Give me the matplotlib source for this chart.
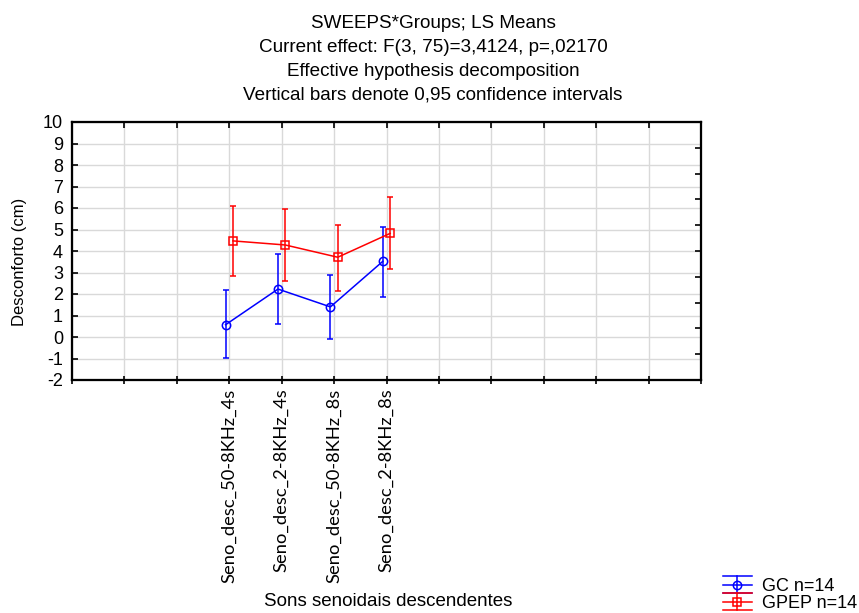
import numpy as np
import matplotlib.pyplot as plt
from matplotlib.lines import Line2D
from matplotlib.legend_handler import HandlerBase

# category labels and positions on the 0..12 x scale
categories = ["Seno_desc_50-8KHz_4s", "Seno_desc_2-8KHz_4s",
              "Seno_desc_50-8KHz_8s", "Seno_desc_2-8KHz_8s"]
positions = [3, 4, 5, 6]

# LS means and 0.95 confidence limits
gc_mean = [0.57, 2.23, 1.40, 3.52]
gc_low = [-0.96, 0.62, -0.09, 1.88]
gc_high = [2.17, 3.85, 2.87, 5.13]

gpep_mean = [4.47, 4.28, 3.71, 4.82]
gpep_low = [2.85, 2.59, 2.14, 3.15]
gpep_high = [6.09, 5.95, 5.21, 6.53]

title_lines = ["SWEEPS*Groups; LS Means",
               "Current effect: F(3, 75)=3,4124, p=,02170",
               "Effective hypothesis decomposition",
               "Vertical bars denote 0,95 confidence intervals"]

plt.rcParams['font.family'] = ['Liberation Sans', 'DejaVu Sans']

W, H = 859, 613
fig = plt.figure(figsize=(W / 100, H / 100), dpi=100)
ax = fig.add_axes([72 / W, 1 - 380 / H, 629 / W, 258 / H])

off = 0.07
x_gc = np.array(positions) - off
x_gp = np.array(positions) + off
gc_m = np.array(gc_mean)
gp_m = np.array(gpep_mean)

ax.errorbar(x_gc, gc_m,
            yerr=[gc_m - np.array(gc_low), np.array(gc_high) - gc_m],
            color='#0000ff', marker='o', markersize=6, mfc='none',
            mec='#0000ff', mew=1.1, lw=1.1, elinewidth=1.1, capsize=2.2,
            capthick=1.1, zorder=3)
ax.errorbar(x_gp, gp_m,
            yerr=[gp_m - np.array(gpep_low), np.array(gpep_high) - gp_m],
            color='#ff0000', marker='s', markersize=6, mfc='none',
            mec='#ff0000', mew=1.1, lw=1.1, elinewidth=1.1, capsize=2.2,
            capthick=1.1, zorder=3)

ax.set_xlim(0, 12)
ax.set_ylim(-2, 10)
ax.set_xticks(np.arange(0, 13))
ax.set_xticklabels(["" if i not in positions else categories[positions.index(i)]
                    for i in range(13)],
                   rotation=90, fontsize=13.2, family=['Lato', 'DejaVu Sans'])
ax.set_yticks(np.arange(-2, 11))
ax.set_yticklabels([str(v) for v in range(-2, 11)], fontsize=13)
ax.grid(True, color='#d9d9d9', lw=1.0)
ax.set_axisbelow(True)
ax.tick_params(axis='y', direction='in', length=4, width=1.2, right=False, pad=6.5)
ax.tick_params(axis='x', direction='inout', length=6, width=1.2, top=False, pad=3)
for s in ax.spines.values():
    s.set_linewidth(1.5)

# top ticks, inward
axt = ax.twiny()
axt.set_xlim(0, 12)
axt.set_xticks(np.arange(1, 12))
axt.set_xticklabels([])
axt.tick_params(axis='x', direction='in', length=4, width=1.2)

# right-side ticks (separate scale, unlabeled)
axr = ax.twinx()
axr.set_ylim(0, 10)
axr.set_yticks(np.arange(1, 10))
axr.set_yticklabels([])
axr.tick_params(axis='y', direction='in', length=4, width=1.2)
for a in (axt, axr):
    for s in a.spines.values():
        s.set_linewidth(1.5)

fig.text(20 / W, 1 - 262 / H, "Desconforto (cm)", rotation=90,
         ha='center', va='center', fontsize=12)
fig.text(388 / W, 1 - 602 / H, "Sons senoidais descendentes",
         ha='center', va='center', fontsize=13.5)

for i, line in enumerate(title_lines):
    fig.text(433 / W, 1 - (23 + 24 * i) / H, line, ha='center', va='center',
             fontsize=13.6)


# legend handle: line + marker with wide caps and a vertical stem
class HandlerCI(HandlerBase):
    def create_artists(self, legend, orig_handle, xdescent, ydescent,
                       width, height, fontsize, trans):
        c = orig_handle.get_color()
        m = orig_handle.get_marker()
        yc = height / 2 - ydescent
        d = 0.47 * fontsize
        x0, x1 = -xdescent, width - xdescent
        xm = (x0 + x1) / 2
        arts = [Line2D([x0, x1], [yc, yc], color=c, lw=1.1),
                Line2D([x0, x1], [yc + d, yc + d], color=c, lw=1.1),
                Line2D([x0, x1], [yc - d, yc - d], color=c, lw=1.1),
                Line2D([xm, xm], [yc - d, yc + d], color=c, lw=1.1),
                Line2D([xm], [yc], marker=m, color=c, mfc='none', ms=6, mew=1.1)]
        for a in arts:
            a.set_transform(trans)
        return arts


h1 = Line2D([], [], color='#0000ff', marker='o')
h2 = Line2D([], [], color='#ff0000', marker='s')
fig.legend(handles=[h1, h2], labels=['GC n=14', 'GPEP n=14'],
           handler_map={Line2D: HandlerCI()},
           loc='center left', bbox_to_anchor=(723 / W, 1 - 595 / H),
           frameon=False, fontsize=13, handlelength=1.6, handletextpad=0.55,
           labelspacing=0.0, borderpad=0, borderaxespad=0)

fig.savefig("out.png", dpi=100)
